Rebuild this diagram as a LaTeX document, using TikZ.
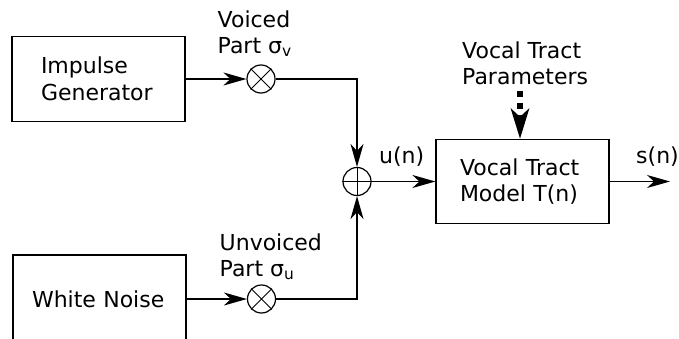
\documentclass[tikz,border=0pt]{standalone}
\usepackage{fontspec}
\setmainfont{DejaVu Sans}
\usetikzlibrary{arrows.meta}
\begin{document}
\begin{tikzpicture}[x=1pt,y=-1pt,
  every node/.style={font=\fontsize{22pt}{26.5pt}\selectfont},
  blk/.style={draw, line width=1.2pt, minimum height=85pt, inner ysep=0pt, align=left},
  mix/.style={draw, circle, line width=1.2pt, minimum size=28pt, inner sep=0pt},
  crs/.style={line width=0.9pt},
  lbl/.style={anchor=north west, inner sep=0pt, align=left},
  conn/.style={line width=1.2pt, -{Stealth[length=23pt,width=13pt,inset=7pt]}},
  param/.style={line width=6pt, dash pattern=on 6pt off 6pt, -{Stealth[length=30pt,width=18pt,inset=8pt]}},
]
\useasboundingbox (0,0) rectangle (679,339);
% blocks
\node[blk, text width=115pt, inner xsep=29pt] (ig) at (98.5,79) {Impulse\\Generator};
\node[blk, text width=135pt, inner xsep=19pt, minimum height=88pt] (wn) at (99.5,299) {White Noise};
\node[blk, text width=125pt, inner xsep=24pt, minimum height=84pt] (vt) at (522.5,181.5) {Vocal Tract\\Model T(n)};
% mixers
\node[mix] (m1) at (261,79) {};
\node[mix] (m2) at (261.5,299) {};
\node[mix] (pl) at (357,181.5) {};
\draw[crs] (m1.north west) -- (m1.south east) (m1.north east) -- (m1.south west);
\draw[crs] (m2.north west) -- (m2.south east) (m2.north east) -- (m2.south west);
\draw[crs] (pl.north) -- (pl.south) (pl.west) -- (pl.east);
% labels
\node[lbl] (voi) at (217.5,10.3) {Voiced\\Part σ\textsubscript{v}};
\node[lbl] (unv) at (219.5,233.3) {Unvoiced\\Part σ\textsubscript{u}};
\node[lbl] (vtp) at (462,41.3) {Vocal Tract\\Parameters};
\node[lbl] (un) at (379,146.3) {u(n)};
\node[lbl] (sn) at (636,146.3) {s(n)};
% connectors
\coordinate (out) at (670,181.5);
\coordinate (par) at (520,91);
\draw[conn] (ig.east) -- (m1.west);
\draw[conn] (m1.east) -| (pl.north);
\draw[conn] (wn.east |- m2) -- (m2.west);
\draw[conn] (m2.east) -| (pl.south);
\draw[conn] (pl.east) -- (vt.west);
\draw[conn] (vt.east) -- (out);
\draw[param] (par) -- (par |- vt.north);
\end{tikzpicture}
\end{document}
